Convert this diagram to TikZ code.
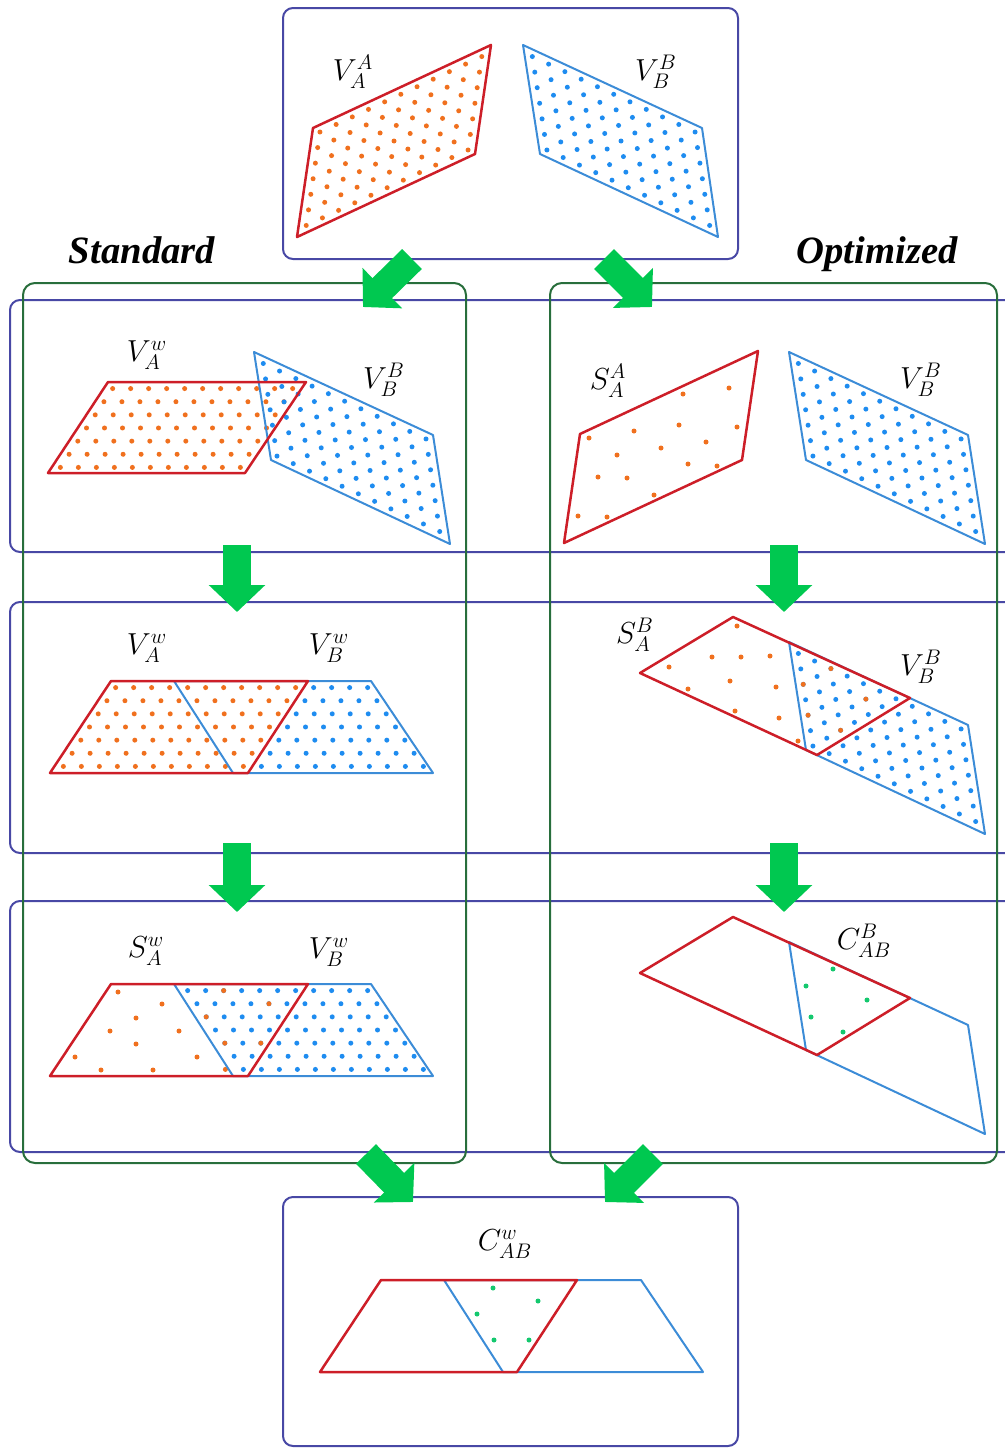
\documentclass[tikz,border=0pt]{standalone}
\usepackage{fontspec}
\newfontfamily\titlefont{Liberation Serif}
\usetikzlibrary{arrows.meta}

\definecolor{boxblue}{RGB}{72,72,165}
\definecolor{boxgreen}{RGB}{40,110,60}
\definecolor{shapered}{RGB}{205,30,40}
\definecolor{shapeblue}{RGB}{60,140,215}
\definecolor{dotorange}{RGB}{240,112,30}
\definecolor{dotblue}{RGB}{30,140,240}
\definecolor{dotgreen}{RGB}{20,200,110}
\definecolor{arrowgreen}{RGB}{0,200,80}

% dots on an 11 x 7 lattice spanned by (ux,uy) and (vx,vy) from (x0,y0)
\newcommand{\latdots}[7]{%
  \foreach \i in {0,...,10}{%
    \foreach \j in {0,...,6}{%
      \fill[#1] ({#2+(\i+0.5)*(#4)/11+(\j+0.5)*(#6)/7},{#3+(\i+0.5)*(#5)/11+(\j+0.5)*(#7)/7}) circle (0.5mm);}}}
% dots on the sheared lattice of the warped views
\newcommand{\rowdots}[5]{%
  \foreach \j in {0,...,6}{%
    \foreach \i in {#2,...,#3}{%
      \fill[#1] ({#4+18*(\i+0.5)-8.71*(\j+0.5)},{#5+13.14*(\j+0.5)}) circle (0.5mm);}}}

\begin{document}
\begin{tikzpicture}[x=0.2mm, y=-0.2mm,
  frame/.style={draw=boxblue, line width=0.4mm, rounded corners=2mm},
  column/.style={draw=boxgreen, line width=0.4mm, rounded corners=2.4mm},
  redface/.style={draw=shapered, line width=0.5mm, line join=round},
  blueface/.style={draw=shapeblue, line width=0.4mm, line join=round},
  lbl/.style={font=\fontsize{18.5}{20}\selectfont, inner sep=0pt},
  title/.style={font=\titlefont\fontsize{22}{26}\selectfont\bfseries\itshape, inner sep=0pt},
  flow/.style={draw=arrowgreen, line width=5.6mm, -{Triangle[length=5.4mm, width=11mm]}}]

\useasboundingbox (0,0) rectangle (1005,1448);
\clip (0,0) rectangle (1005,1448);

% panels
\draw[frame] (10,300) rectangle (1020,552);
\draw[frame] (10,602) rectangle (1020,853);
\draw[frame] (10,901) rectangle (1020,1152);
\draw[column] (23,283) rectangle (466,1163);
\draw[column] (550,283) rectangle (997,1163);
\draw[frame] (283,8) rectangle (738,259);
\draw[frame] (283,1197) rectangle (738,1446);

\node[title, anchor=base] (std) at (142,263) {Standard};
\node[title, anchor=base] (opt) at (877,263) {Optimized};

% input views
\latdots{dotorange}{297}{237}{178}{-83}{16}{-109}
\latdots{dotblue}{523}{45}{179}{83}{17}{109}
\draw[redface] (297,237) -- (313,128) -- (491,45) -- (475,154) -- cycle;
\draw[blueface] (523,45) -- (540,154) -- (718,237) -- (702,128) -- cycle;
\node[lbl] (vaa) at (353,72) {$V_A^A$};
\node[lbl] (vbb) at (656,72) {$V_B^B$};

% standard, row 1
\rowdots{dotorange}{0}{10}{108}{382}
\latdots{dotblue}{254}{352}{179}{83}{16}{108}
\draw[blueface] (254,352) -- (271,460) -- (450,544) -- (433,435) -- cycle;
\draw[redface] (48,473) -- (108,382) -- (306,382) -- (245,473) -- cycle;
\node[lbl] (vaw1) at (147,355) {$V_A^w$};
\node[lbl] (vbb1) at (384,380) {$V_B^B$};

% optimized, row 1
\foreach \p in {(589,438),(634,431),(683,394),(729,388),(679,425),(737,427),(617,455),(661,448),
  (706,442),(598,477),(627,478),(688,464),(717,466),(654,495),(578,516),(607,517)}
  \fill[dotorange] \p circle (0.5mm);
\latdots{dotblue}{789}{352}{179}{83}{17}{108}
\draw[redface] (564,543) -- (580,434) -- (758,351) -- (742,460) -- cycle;
\draw[blueface] (789,352) -- (806,460) -- (985,544) -- (968,435) -- cycle;
\node[lbl] (saa) at (608,381) {$S_A^A$};
\node[lbl] (vbb2) at (921,380) {$V_B^B$};

% standard, row 2
\begin{scope}
  \clip (50,773) -- (111,681) -- (308,681) -- (248,773) -- cycle;
  \rowdots{dotorange}{0}{10}{111}{681}
\end{scope}
\begin{scope}
  \clip (174,681) -- (371,681) -- (433,773) -- (233,773) -- cycle;
  \rowdots{dotblue}{11}{20}{111}{681}
\end{scope}
\draw[blueface] (174,681) -- (371,681) -- (433,773) -- (233,773) -- cycle;
\draw[redface] (50,773) -- (111,681) -- (308,681) -- (248,773) -- cycle;
\node[lbl] (vaw2) at (147,648) {$V_A^w$};
\node[lbl] (vbw2) at (329,648) {$V_B^w$};

% optimized, row 2
\latdots{dotblue}{789}{642}{179}{83}{17}{108}
\foreach \i/\j in {2/0,0/2,4/1,0/4,2/4}
  \fill[dotorange] ({789+(\i+0.5)*179/11+(\j+0.5)*17/7},{642+(\i+0.5)*83/11+(\j+0.5)*108/7}) circle (0.5mm);
\foreach \p in {(737,626),(669,667),(712,657),(741,657),(770,656),(688,689),(730,681),(776,687),
  (735,711),(779,718),(798,741)}
  \fill[dotorange] \p circle (0.5mm);
\draw[blueface] (789,642) -- (806,750) -- (985,834) -- (968,725) -- cycle;
\draw[redface] (640,673) -- (733,617) -- (910,698) -- (817,755) -- cycle;
\node[lbl] (sab) at (635,635) {$S_A^B$};
\node[lbl] (vbb3) at (921,667) {$V_B^B$};

% standard, row 3
\begin{scope}
  \clip (174,984) -- (371,984) -- (433,1076) -- (233,1076) -- cycle;
  \rowdots{dotblue}{0}{20}{111}{984}
\end{scope}
\foreach \i/\j in {6/0,9/1,6/2,8/4,10/4,9/6}
  \fill[dotorange] ({111+18*(\i+0.5)-8.71*(\j+0.5)},{984+13.14*(\j+0.5)}) circle (0.5mm);
\foreach \p in {(118,992),(162,1004),(136,1018),(110,1031),(179,1031),(136,1044),(75,1057),
  (197,1057),(101,1070),(153,1070)}
  \fill[dotorange] \p circle (0.5mm);
\draw[blueface] (174,984) -- (371,984) -- (433,1076) -- (233,1076) -- cycle;
\draw[redface] (50,1076) -- (111,984) -- (308,984) -- (248,1076) -- cycle;
\node[lbl] (saw) at (146,951) {$S_A^w$};
\node[lbl] (vbw3) at (329,952) {$V_B^w$};

% optimized, row 3
\draw[blueface] (789,942) -- (806,1050) -- (985,1134) -- (968,1025) -- cycle;
\draw[redface] (640,973) -- (733,917) -- (910,998) -- (817,1055) -- cycle;
\foreach \p in {(833,969),(806,986),(867,1000),(811,1017),(843,1032)}
  \fill[dotgreen] \p circle (0.5mm);
\node[lbl] (cabb) at (864,941) {$C_{AB}^B$};

% result
\draw[blueface] (444,1280) -- (641,1280) -- (703,1372) -- (503,1372) -- cycle;
\draw[redface] (320,1372) -- (381,1280) -- (577,1280) -- (517,1372) -- cycle;
\foreach \p in {(493,1288),(538,1301),(477,1314),(494,1340),(529,1340)}
  \fill[dotgreen] \p circle (0.5mm);
\node[lbl] (cabw) at (505,1244) {$C_{AB}^w$};

% flow arrows
\coordinate (topl) at (412,259);   \coordinate (stdin) at (363,307);
\coordinate (topr) at (604,259);   \coordinate (optin) at (652,307);
\coordinate (s1) at (237,545);     \coordinate (s2) at (237,612);
\coordinate (s3) at (237,843);     \coordinate (s4) at (237,912);
\coordinate (o1) at (784,545);     \coordinate (o2) at (784,612);
\coordinate (o3) at (784,843);     \coordinate (o4) at (784,912);
\coordinate (stdout) at (366,1154); \coordinate (resl) at (413,1202);
\coordinate (optout) at (653,1154); \coordinate (resr) at (605,1202);
\draw[flow] (topl) -- (stdin);
\draw[flow] (topr) -- (optin);
\draw[flow] (s1) -- (s2); \draw[flow] (s3) -- (s4);
\draw[flow] (o1) -- (o2); \draw[flow] (o3) -- (o4);
\draw[flow] (stdout) -- (resl);
\draw[flow] (optout) -- (resr);
\end{tikzpicture}
\end{document}
